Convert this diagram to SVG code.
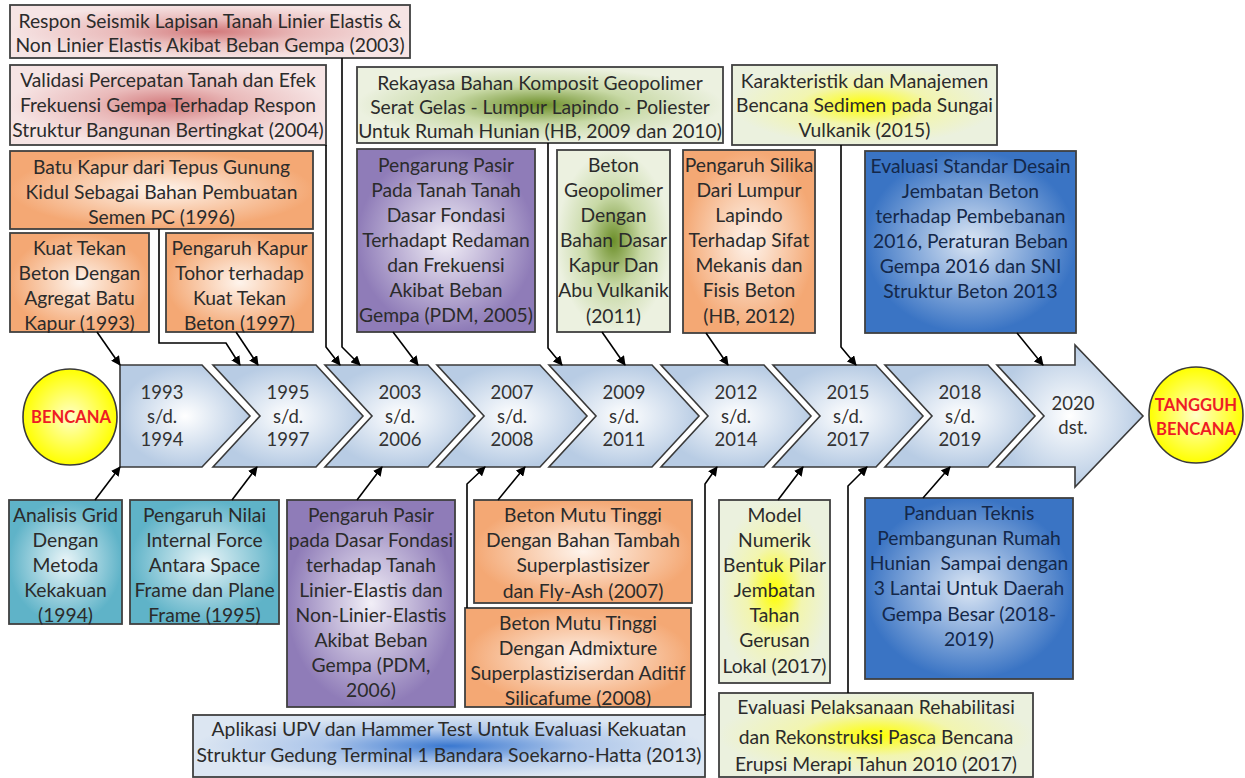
<svg xmlns="http://www.w3.org/2000/svg" width="1245" height="778" viewBox="0 0 1245 778">
<defs>
<style>
.box{stroke:#404040;stroke-width:1.8}
.chev{fill:url(#gChev);stroke:#3a3a3a;stroke-width:1.6}
.t{font-family:Lato,"Liberation Sans",sans-serif;font-size:19.3px;fill:#2b2b2b;text-anchor:middle}
.tb{fill:#14284a}
.ct{font-family:Lato,"Liberation Sans",sans-serif;font-size:18.5px;fill:#333;text-anchor:middle}
.red{font-family:Lato,"Liberation Sans",sans-serif;font-size:16.6px;font-weight:bold;fill:#ee1c24;text-anchor:middle}
.sun{fill:url(#gSun);stroke:#3a3a3a;stroke-width:1.6}
.conn{fill:none;stroke:#000;stroke-width:1.6;marker-end:url(#ah)}
</style>
<marker id="ah" viewBox="0 0 10 10" refX="9" refY="5" markerWidth="6" markerHeight="6" orient="auto" markerUnits="strokeWidth"><path d="M0,0 L10,5 L0,10 z" fill="#000"/></marker>
<radialGradient id="gPink"><stop offset="0" stop-color="#d2787a"/><stop offset="0.45" stop-color="#e9b9b9"/><stop offset="1" stop-color="#f6e4e4"/></radialGradient>
<radialGradient id="gOrange"><stop offset="0" stop-color="#fef4ec"/><stop offset="1" stop-color="#f4a874"/></radialGradient>
<radialGradient id="gPurple"><stop offset="0" stop-color="#f2eff7"/><stop offset="1" stop-color="#8f7cb8"/></radialGradient>
<radialGradient id="gGreen"><stop offset="0" stop-color="#6d8f2a"/><stop offset="0.5" stop-color="#c8d9a6"/><stop offset="1" stop-color="#ecf1e0"/></radialGradient>
<radialGradient id="gYellow"><stop offset="0" stop-color="#ffff00"/><stop offset="0.5" stop-color="#f2f5b0"/><stop offset="1" stop-color="#ebf1de"/></radialGradient>
<radialGradient id="gBlue"><stop offset="0" stop-color="#dbe6f4"/><stop offset="1" stop-color="#3a74c4"/></radialGradient>
<radialGradient id="gTeal"><stop offset="0" stop-color="#eaf5f8"/><stop offset="1" stop-color="#5fb3c8"/></radialGradient>
<radialGradient id="gBlueLight"><stop offset="0" stop-color="#3a78d0"/><stop offset="0.5" stop-color="#adc6ea"/><stop offset="1" stop-color="#dce6f2"/></radialGradient>
<radialGradient id="gChev"><stop offset="0" stop-color="#ffffff"/><stop offset="1" stop-color="#b8cce4"/></radialGradient>
<radialGradient id="gSun"><stop offset="0" stop-color="#ffffc8"/><stop offset="1" stop-color="#ffff00"/></radialGradient>
</defs>
<rect width="1245" height="778" fill="#fff"/>

<!-- timeline -->
<g id="start"><ellipse class="sun" cx="70" cy="417" rx="47" ry="48"/><text class="red" x="71" y="423">BENCANA</text></g>
<g id="c1993"><polygon class="chev" points="120,365 202,365 250,416 202,467 120,467"/><text class="ct" x="162" y="399">1993</text><text class="ct" x="162" y="423">s/d.</text><text class="ct" x="162" y="446">1994</text></g>
<g id="c1995"><polygon class="chev" points="213,365 316,365 363,416 316,467 213,467 260,416"/><text class="ct" x="288" y="399">1995</text><text class="ct" x="288" y="423">s/d.</text><text class="ct" x="288" y="446">1997</text></g>
<g id="c2003"><polygon class="chev" points="325,365 428,365 475,416 428,467 325,467 372,416"/><text class="ct" x="400" y="399">2003</text><text class="ct" x="400" y="423">s/d.</text><text class="ct" x="400" y="446">2006</text></g>
<g id="c2007"><polygon class="chev" points="437,365 540,365 587,416 540,467 437,467 484,416"/><text class="ct" x="512" y="399">2007</text><text class="ct" x="512" y="423">s/d.</text><text class="ct" x="512" y="446">2008</text></g>
<g id="c2009"><polygon class="chev" points="549,365 652,365 699,416 652,467 549,467 596,416"/><text class="ct" x="624" y="399">2009</text><text class="ct" x="624" y="423">s/d.</text><text class="ct" x="624" y="446">2011</text></g>
<g id="c2012"><polygon class="chev" points="661,365 764,365 811,416 764,467 661,467 708,416"/><text class="ct" x="736" y="399">2012</text><text class="ct" x="736" y="423">s/d.</text><text class="ct" x="736" y="446">2014</text></g>
<g id="c2015"><polygon class="chev" points="773,365 876,365 923,416 876,467 773,467 820,416"/><text class="ct" x="848" y="399">2015</text><text class="ct" x="848" y="423">s/d.</text><text class="ct" x="848" y="446">2017</text></g>
<g id="c2018"><polygon class="chev" points="885,365 988,365 1035,416 988,467 885,467 932,416"/><text class="ct" x="960" y="399">2018</text><text class="ct" x="960" y="423">s/d.</text><text class="ct" x="960" y="446">2019</text></g>
<g id="c2020"><polygon class="chev" points="997,365 1075,365 1075,345 1143,416 1075,487 1075,467 997,467 1044,416"/><text class="ct" x="1073" y="410">2020</text><text class="ct" x="1073" y="434">dst.</text></g>
<g id="end"><ellipse class="sun" cx="1196" cy="415" rx="47" ry="48"/><text class="red" x="1196" y="411">TANGGUH</text><text class="red" x="1196" y="435">BENCANA</text></g>

<!-- top boxes -->
<g id="respon2003"><rect class="box" x="10" y="5" width="400" height="53" fill="url(#gPink)"/><text class="t" x="210" y="28">Respon Seismik Lapisan Tanah Linier Elastis &amp;</text><text class="t" x="210" y="52">Non Linier Elastis Akibat Beban Gempa (2003)</text></g>
<g id="validasi2004"><rect class="box" x="10" y="65" width="316" height="80" fill="url(#gPink)"/><text class="t" x="168" y="87">Validasi Percepatan Tanah dan Efek</text><text class="t" x="168" y="112">Frekuensi Gempa Terhadap Respon</text><text class="t" x="168" y="137">Struktur Bangunan Bertingkat (2004)</text></g>
<g id="batukapur1996"><rect class="box" x="10" y="151" width="303" height="78" fill="url(#gOrange)"/><text class="t" x="161.5" y="174">Batu Kapur dari Tepus Gunung</text><text class="t" x="161.5" y="199">Kidul Sebagai Bahan Pembuatan</text><text class="t" x="161.5" y="224">Semen PC (1996)</text></g>
<g id="kuattekan1993"><rect class="box" x="10" y="233" width="139" height="99" fill="url(#gOrange)"/><text class="t" x="79.5" y="255">Kuat Tekan</text><text class="t" x="79.5" y="280">Beton Dengan</text><text class="t" x="79.5" y="305">Agregat Batu</text><text class="t" x="79.5" y="330">Kapur (1993)</text></g>
<g id="kapurtohor1997"><rect class="box" x="166" y="233" width="147" height="99" fill="url(#gOrange)"/><text class="t" x="239.5" y="255">Pengaruh Kapur</text><text class="t" x="239.5" y="280">Tohor terhadap</text><text class="t" x="239.5" y="305">Kuat Tekan</text><text class="t" x="239.5" y="330">Beton (1997)</text></g>
<g id="rekayasa2009"><rect class="box" x="357" y="67" width="366" height="76" fill="url(#gGreen)"/><text class="t" x="540" y="90">Rekayasa Bahan Komposit Geopolimer</text><text class="t" x="540" y="114">Serat Gelas - Lumpur Lapindo - Poliester</text><text class="t" x="540" y="138">Untuk Rumah Hunian (HB, 2009 dan 2010)</text></g>
<g id="pasir2005"><rect class="box" x="357" y="149" width="178" height="183" fill="url(#gPurple)"/><text class="t" x="446" y="172">Pengarung Pasir</text><text class="t" x="446" y="197">Pada Tanah Tanah</text><text class="t" x="446" y="222">Dasar Fondasi</text><text class="t" x="446" y="247">Terhadapt Redaman</text><text class="t" x="446" y="272">dan Frekuensi</text><text class="t" x="446" y="297">Akibat Beban</text><text class="t" x="446" y="322">Gempa (PDM, 2005)</text></g>
<g id="geopolimer2011"><rect class="box" x="557" y="150" width="113" height="182" fill="url(#gGreen)"/><text class="t" x="613.5" y="172">Beton</text><text class="t" x="613.5" y="197">Geopolimer</text><text class="t" x="613.5" y="222">Dengan</text><text class="t" x="613.5" y="247">Bahan Dasar</text><text class="t" x="613.5" y="272">Kapur Dan</text><text class="t" x="613.5" y="297">Abu Vulkanik</text><text class="t" x="613.5" y="323">(2011)</text></g>
<g id="silika2012"><rect class="box" x="683" y="150" width="132" height="183" fill="url(#gOrange)"/><text class="t" x="749" y="172">Pengaruh Silika</text><text class="t" x="749" y="197">Dari Lumpur</text><text class="t" x="749" y="222">Lapindo</text><text class="t" x="749" y="247">Terhadap Sifat</text><text class="t" x="749" y="272">Mekanis dan</text><text class="t" x="749" y="297">Fisis Beton</text><text class="t" x="749" y="323">(HB, 2012)</text></g>
<g id="sedimen2015"><rect class="box" x="732" y="65" width="265" height="80" fill="url(#gYellow)"/><text class="t" x="864.5" y="88">Karakteristik dan Manajemen</text><text class="t" x="864.5" y="112">Bencana Sedimen pada Sungai</text><text class="t" x="864.5" y="137">Vulkanik (2015)</text></g>
<g id="standar2016"><rect class="box" x="865" y="151" width="211" height="182" fill="url(#gBlue)"/><text class="t tb" x="970.5" y="173">Evaluasi Standar Desain</text><text class="t tb" x="970.5" y="198">Jembatan Beton</text><text class="t tb" x="970.5" y="223">terhadap Pembebanan</text><text class="t tb" x="970.5" y="248">2016, Peraturan Beban</text><text class="t tb" x="970.5" y="273">Gempa 2016 dan SNI</text><text class="t tb" x="970.5" y="298">Struktur Beton 2013</text></g>

<!-- bottom boxes -->
<g id="grid1994"><rect class="box" x="9" y="500" width="113" height="124" fill="url(#gTeal)"/><text class="t" x="65.5" y="522">Analisis Grid</text><text class="t" x="65.5" y="547">Dengan</text><text class="t" x="65.5" y="572">Metoda</text><text class="t" x="65.5" y="597">Kekakuan</text><text class="t" x="65.5" y="622">(1994)</text></g>
<g id="force1995"><rect class="box" x="130" y="500" width="149" height="124" fill="url(#gTeal)"/><text class="t" x="204.5" y="522">Pengaruh Nilai</text><text class="t" x="204.5" y="547">Internal Force</text><text class="t" x="204.5" y="572">Antara Space</text><text class="t" x="204.5" y="597">Frame dan Plane</text><text class="t" x="204.5" y="622">Frame (1995)</text></g>
<g id="pasir2006"><rect class="box" x="287" y="500" width="168" height="207" fill="url(#gPurple)"/><text class="t" x="371" y="522">Pengaruh Pasir</text><text class="t" x="371" y="547">pada Dasar Fondasi</text><text class="t" x="371" y="572">terhadap Tanah</text><text class="t" x="371" y="597">Linier-Elastis dan</text><text class="t" x="371" y="622">Non-Linier-Elastis</text><text class="t" x="371" y="647">Akibat Beban</text><text class="t" x="371" y="672">Gempa (PDM,</text><text class="t" x="371" y="697">2006)</text></g>
<g id="mutu2007"><rect class="box" x="474" y="500" width="218" height="103" fill="url(#gOrange)"/><text class="t" x="583" y="522">Beton Mutu Tinggi</text><text class="t" x="583" y="547">Dengan Bahan Tambah</text><text class="t" x="583" y="572">Superplastisizer</text><text class="t" x="583" y="598">dan Fly-Ash (2007)</text></g>
<g id="mutu2008"><rect class="box" x="465" y="608" width="226" height="99" fill="url(#gOrange)"/><text class="t" x="578" y="630">Beton Mutu Tinggi</text><text class="t" x="578" y="655">Dengan Admixture</text><text class="t" x="578" y="680">Superplastiziserdan Aditif</text><text class="t" x="578" y="705">Silicafume (2008)</text></g>
<g id="upv2013"><rect class="box" x="193" y="715" width="512" height="62" fill="url(#gBlueLight)"/><text class="t" x="449" y="736">Aplikasi UPV dan Hammer Test Untuk Evaluasi Kekuatan</text><text class="t" x="449" y="762">Struktur Gedung Terminal 1 Bandara Soekarno-Hatta (2013)</text></g>
<g id="pilar2017"><rect class="box" x="719" y="500" width="111" height="183" fill="url(#gYellow)"/><text class="t" x="774.5" y="522">Model</text><text class="t" x="774.5" y="547">Numerik</text><text class="t" x="774.5" y="572">Bentuk Pilar</text><text class="t" x="774.5" y="597">Jembatan</text><text class="t" x="774.5" y="622">Tahan</text><text class="t" x="774.5" y="647">Gerusan</text><text class="t" x="774.5" y="673">Lokal (2017)</text></g>
<g id="merapi2017"><rect class="box" x="719" y="693" width="314" height="84" fill="url(#gYellow)"/><text class="t" x="876" y="714">Evaluasi Pelaksanaan Rehabilitasi</text><text class="t" x="876" y="744">dan Rekonstruksi Pasca Bencana</text><text class="t" x="876" y="771">Erupsi Merapi Tahun 2010 (2017)</text></g>
<g id="panduan2018"><rect class="box" x="865" y="498" width="208" height="181" fill="url(#gBlue)"/><text class="t tb" x="969" y="520">Panduan Teknis</text><text class="t tb" x="969" y="545">Pembangunan Rumah</text><text class="t tb" x="969" y="570" style="white-space:pre">Hunian  Sampai dengan</text><text class="t tb" x="969" y="595">3 Lantai Untuk Daerah</text><text class="t tb" x="969" y="621">Gempa Besar (2018-</text><text class="t tb" x="969" y="646">2019)</text></g>

<!-- connectors -->
<g id="connectors">
<path class="conn" d="M97,332 L120,365"/>
<path class="conn" d="M159,229 L159,343 L226,343 L240,365"/>
<path class="conn" d="M236,332 L258,365"/>
<path class="conn" d="M326,145 L326,347 L340,365"/>
<path class="conn" d="M342,58 L342,347 L360,365"/>
<path class="conn" d="M393,332 L418,365"/>
<path class="conn" d="M548,143 L548,348 L562,365"/>
<path class="conn" d="M602,332 L625,365"/>
<path class="conn" d="M706,333 L728,365"/>
<path class="conn" d="M841,145 L841,347 L856,365"/>
<path class="conn" d="M1017,333 L1043,365"/>
<path class="conn" d="M95,500 L120,467"/>
<path class="conn" d="M232,500 L257,467"/>
<path class="conn" d="M357,500 L382,467"/>
<path class="conn" d="M467,608 L467,484 L485,467"/>
<path class="conn" d="M498,500 L525,467"/>
<path class="conn" d="M705,715 L705,484 L717,467"/>
<path class="conn" d="M778,500 L803,467"/>
<path class="conn" d="M848,693 L848,486 L867,467"/>
<path class="conn" d="M923,498 L950,467"/>
</g>
</svg>
